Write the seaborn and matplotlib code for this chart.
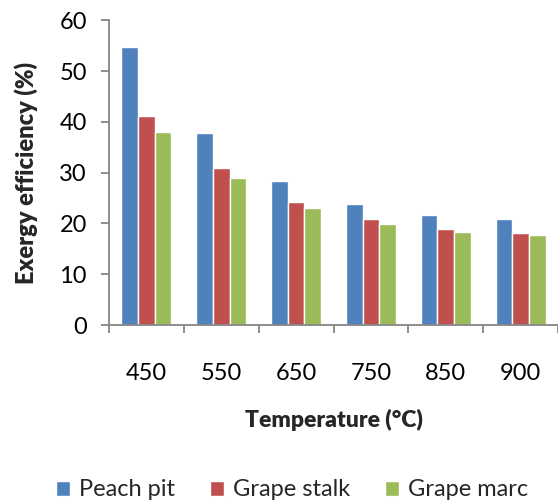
import matplotlib
matplotlib.use("Agg")
import matplotlib.pyplot as plt
import seaborn as sns
import pandas as pd

temperatures = ["450", "550", "650", "750", "850", "900"]
series_names = ["Peach pit", "Grape stalk", "Grape marc"]
peach_pit = [54.7, 37.9, 28.3, 23.9, 21.7, 20.9]
grape_stalk = [41.1, 30.9, 24.2, 20.8, 19.0, 18.2]
grape_marc = [38.0, 28.9, 23.0, 19.9, 18.4, 17.7]
colors = ["#4F81BD", "#C0504D", "#9BBB59"]

rows = []
for name, vals in zip(series_names, [peach_pit, grape_stalk, grape_marc]):
    for t, v in zip(temperatures, vals):
        rows.append({"Temperature": t, "Value": v, "Series": name})
df = pd.DataFrame(rows)

sns.set_style("white")
plt.rcParams["font.family"] = ["Lato", "DejaVu Sans"]

fig = plt.figure(figsize=(5.58, 5.04), dpi=100)
ax = fig.add_axes([109 / 558, 1 - 325 / 504, 449 / 558, (325 - 20.3) / 504])

sns.barplot(data=df, x="Temperature", y="Value", hue="Series",
            order=temperatures, hue_order=series_names, palette=colors,
            width=0.667, gap=0, saturation=1, ax=ax, legend=True)

ax.set_ylim(0, 60)
ax.set_yticks(range(0, 61, 10))
ax.set_xlim(-0.5, 5.5)
ax.set_xticks([i - 0.5 for i in range(7)], minor=True)
ax.set_xticks(range(6))
ax.set_xticklabels(temperatures)

gray = "#868686"
for s in ["top", "right"]:
    ax.spines[s].set_visible(False)
for s in ["left", "bottom"]:
    ax.spines[s].set_color(gray)
    ax.spines[s].set_linewidth(1.3)

fs = 17
ax.tick_params(axis="y", which="major", direction="out", length=6, width=1.3,
               color=gray, labelsize=fs, pad=10, left=True, labelcolor="black")
ax.tick_params(axis="x", which="major", length=0, labelsize=fs, pad=27, labelcolor="black")
ax.tick_params(axis="x", which="minor", direction="out", length=6, width=1.3,
               color=gray, bottom=True)

ax.set_ylabel("Exergy efficiency (%)", fontsize=17, fontweight="heavy", labelpad=15)
ax.set_xlabel("Temperature (°C)", fontsize=16.5, fontweight="heavy", labelpad=18)

handles, labels = ax.get_legend_handles_labels()
ax.get_legend().remove()
fig.legend(handles, labels, loc="center", bbox_to_anchor=(292 / 558, 1 - 490 / 504),
           ncol=3, frameon=False, fontsize=fs, handlelength=0.6, handleheight=0.6,
           handletextpad=0.35, columnspacing=1.5)

fig.savefig("out.png", dpi=100)
